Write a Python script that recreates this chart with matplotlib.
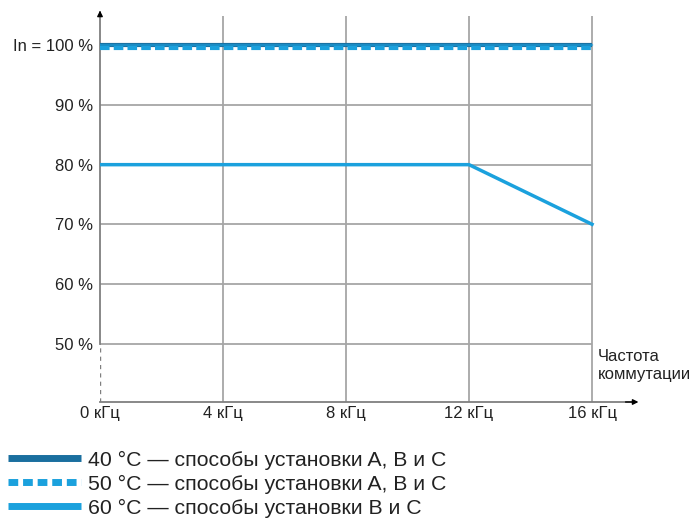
import matplotlib.pyplot as plt
from matplotlib.lines import Line2D
from matplotlib.transforms import ScaledTranslation

plt.rcParams['font.family'] = ['Liberation Sans', 'DejaVu Sans']

# data
freq_khz = [0, 4, 8, 12, 16]
x_labels = ['0 кГц', '4 кГц', '8 кГц', '12 кГц', '16 кГц']
y_ticks = [50, 60, 70, 80, 90, 100]
y_labels = ['50 %', '60 %', '70 %', '80 %', '90 %', 'In = 100 %']

x_40 = [0, 16]
y_40 = [100, 100]
x_50 = [0, 16]
y_50 = [100, 100]
x_60 = [0, 12, 16]
y_60 = [80, 80, 70]

labels = ['40 °C — способы установки A, B и C',
          '50 °C — способы установки A, B и C',
          '60 °C — способы установки B и C']

c_dark = '#1a6f9f'
c_light = '#1ba1dd'
grid_c = '#a6a6a6'
axis_c = '#7f7f7f'
txt_c = '#222222'

fig = plt.figure(figsize=(6.94, 5.18), dpi=100)
ax = fig.add_axes([100 / 694, (518 - 402) / 518, 540 / 694, 390 / 518])
ax.set_xlim(0, 17.56)
ax.set_ylim(40.2, 105.6)
for s in ax.spines.values():
    s.set_visible(False)

# grid
ax.hlines(y_ticks[:-1], 0, 16, color=grid_c, lw=1.3, zorder=1)
ax.vlines(freq_khz[1:], 40.2, 104.9, color=grid_c, lw=1.3, zorder=1)

# axes with arrows
ax.plot([0, 0], [50, 105.6], color=axis_c, lw=1.3, zorder=2, clip_on=False)
ax.plot([0, 0], [40.2, 50], color=axis_c, lw=1.0, ls=(0, (3, 3)), zorder=2)
ax.plot([0, 17.3], [40.2, 40.2], color=axis_c, lw=1.3, zorder=2, clip_on=False)
ax.annotate('', xy=(0, 106.3), xytext=(0, 104.5),
            arrowprops=dict(arrowstyle='-|>', color='black', lw=1, mutation_scale=8),
            annotation_clip=False)
ax.annotate('', xy=(17.6, 40.2), xytext=(17.0, 40.2),
            arrowprops=dict(arrowstyle='-|>', color='black', lw=1, mutation_scale=8),
            annotation_clip=False)

# series
ax.plot(x_40, y_40, color=c_dark, lw=3, zorder=3, solid_capstyle='butt')
off = ax.transData + ScaledTranslation(0, -2.5 / 100, fig.dpi_scale_trans)
ax.plot(x_50, y_50, color=c_light, lw=3, ls=(0, (2.3, 1)), zorder=4, transform=off)
ax.plot(x_60, y_60, color=c_light, lw=2.5, zorder=3)
ax.plot(x_40, y_40, color=c_light, lw=1.6, zorder=5, alpha=0.6)

ax.set_xticks(freq_khz)
ax.set_xticklabels(x_labels, fontsize=12, color=txt_c)
ax.set_yticks(y_ticks)
ax.set_yticklabels(y_labels, fontsize=12, color=txt_c)
ax.tick_params(length=0, pad=5)
ax.tick_params(axis='x', pad=3)

ax.text(16.2, 46.3, 'Частота\nкоммутации', fontsize=12, ha='left', va='center',
        linespacing=1.3, color=txt_c)

# legend
handles = [Line2D([], [], color=c_dark, lw=5, solid_capstyle='butt'),
           Line2D([], [], color=c_light, lw=5, ls=(0, (1.4, 0.7))),
           Line2D([], [], color=c_light, lw=5, solid_capstyle='butt')]
leg = fig.legend(handles, labels, loc='lower left', bbox_to_anchor=(0.003, -0.012),
                 frameon=False, fontsize=15.3, handlelength=3.4, handletextpad=0.35,
                 labelspacing=0.24, borderpad=0.3, borderaxespad=0.0)
for t in leg.get_texts():
    t.set_color(txt_c)

fig.savefig('out.png', dpi=100)
